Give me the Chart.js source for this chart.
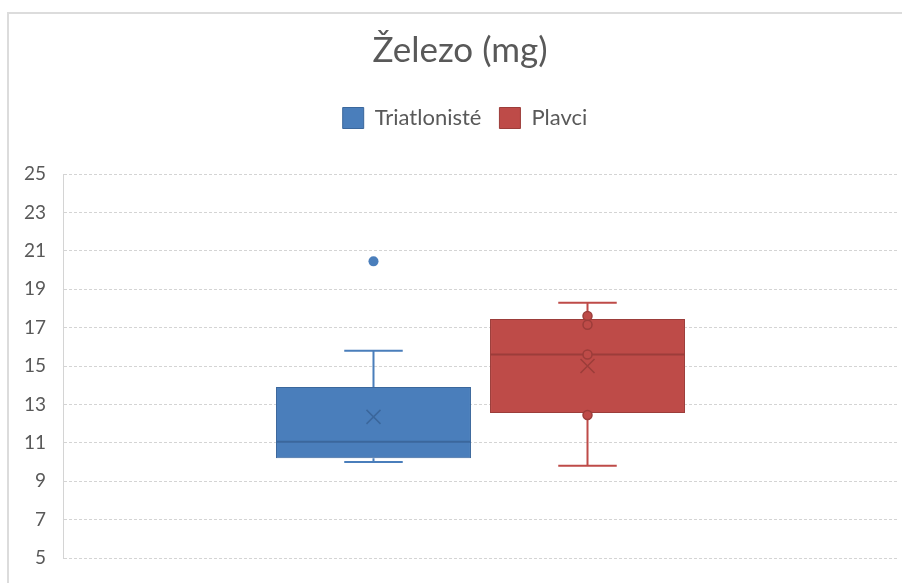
<!DOCTYPE html>
<html>
<head>
<meta charset="utf-8">
<script src="https://cdn.jsdelivr.net/npm/chart.js@4.4.1/dist/chart.umd.min.js"></script>
<style>
  html, body { margin: 0; padding: 0; background: #ffffff; }
  #wrap { position: relative; width: 902px; height: 583px; overflow: hidden; }
  #frame { position: absolute; left: 7px; top: 12px; width: 1000px; height: 1000px;
           border-left: 2px solid #dcdcdc; border-top: 2px solid #dcdcdc; }
  canvas { position: absolute; left: 0; top: 0; }
</style>
</head>
<body>
<div id="wrap">
  <div id="frame"></div>
  <canvas id="c" width="902" height="583"></canvas>
</div>
<script>
// Iron intake (mg): box-and-whisker summary per group
const seriesNames = ['Triatlonisté', 'Plavci'];
const minValues = [10.0, 9.8];
const q1Values = [10.2, 12.55];
const medianValues = [11.05, 15.6];
const q3Values = [13.9, 17.45];
const maxValues = [15.8, 18.3];
const meanValues = [12.35, 15.0];
const outlierValues = [[20.45], []];
const innerPointValues = [[], [17.6, 17.15, 15.6, 12.45]];
const yTicks = [5, 7, 9, 11, 13, 15, 17, 19, 21, 23, 25];

const fillColors = ['#4a7ebb', '#be4b48'];
const edgeColors = ['#3b679c', '#9c3d3a'];
const textColor = '#595959';
const fontFamily = 'Lato, "Open Sans", sans-serif';

// Whiskers, caps, median, mean marker and single points drawn on top of the boxes
const boxExtras = {
  id: 'boxExtras',
  afterDatasetsDraw(chart) {
    const ctx = chart.ctx;
    const y = chart.scales.y;
    chart.data.datasets.forEach((ds, i) => {
      const meta = chart.getDatasetMeta(i);
      if (meta.hidden || !meta.data[0]) return;
      const bar = meta.data[0];
      const cx = bar.x;
      const half = bar.width / 2;
      const capHalf = bar.width * 0.15;
      const yMin = y.getPixelForValue(minValues[i]);
      const yMax = y.getPixelForValue(maxValues[i]);
      const yQ1 = y.getPixelForValue(q1Values[i]);
      const yQ3 = y.getPixelForValue(q3Values[i]);
      const yMed = y.getPixelForValue(medianValues[i]);
      const yMean = y.getPixelForValue(meanValues[i]);

      ctx.save();
      // whiskers
      ctx.strokeStyle = fillColors[i];
      ctx.lineWidth = 2;
      ctx.beginPath();
      ctx.moveTo(cx, yQ3); ctx.lineTo(cx, yMax);
      ctx.moveTo(cx - capHalf, yMax); ctx.lineTo(cx + capHalf, yMax);
      ctx.moveTo(cx, yQ1); ctx.lineTo(cx, yMin);
      ctx.moveTo(cx - capHalf, yMin); ctx.lineTo(cx + capHalf, yMin);
      ctx.stroke();

      // median
      ctx.strokeStyle = edgeColors[i];
      ctx.lineWidth = 2;
      ctx.beginPath();
      ctx.moveTo(cx - half, yMed); ctx.lineTo(cx + half, yMed);
      ctx.stroke();

      // inner points
      innerPointValues[i].forEach(v => {
        const py = y.getPixelForValue(v);
        ctx.beginPath();
        ctx.arc(cx, py, 4.5, 0, Math.PI * 2);
        ctx.fillStyle = fillColors[i];
        ctx.fill();
        ctx.lineWidth = 1.5;
        ctx.strokeStyle = edgeColors[i];
        ctx.stroke();
      });

      // mean marker (x)
      const m = 7;
      ctx.strokeStyle = edgeColors[i];
      ctx.lineWidth = 1.5;
      ctx.beginPath();
      ctx.moveTo(cx - m, yMean - m); ctx.lineTo(cx + m, yMean + m);
      ctx.moveTo(cx + m, yMean - m); ctx.lineTo(cx - m, yMean + m);
      ctx.stroke();

      // outliers
      outlierValues[i].forEach(v => {
        const py = y.getPixelForValue(v);
        ctx.beginPath();
        ctx.arc(cx, py, 5, 0, Math.PI * 2);
        ctx.fillStyle = fillColors[i];
        ctx.fill();
      });
      ctx.restore();
    });
  }
};

// Extra space between the legend and the plot; title and legend sit slightly right of centre
const headerLayout = {
  id: 'headerLayout',
  beforeInit(chart) {
    const origFit = chart.legend.fit;
    chart.legend.fit = function () {
      origFit.bind(chart.legend)();
      this.height += 35;
    };
  },
  afterLayout(chart) {
    const shift = (box, dx) => { if (box) { box.left += dx; box.right += dx; } };
    shift(chart.legend, 7);
    shift(chart.titleBlock, 2);
  }
};

const datasets = seriesNames.map((name, i) => ({
  label: name,
  data: [[q1Values[i], q3Values[i]]],
  backgroundColor: fillColors[i],
  borderColor: edgeColors[i],
  borderWidth: 1,
  borderSkipped: false,
  categoryPercentage: 0.5126,
  barPercentage: 0.911
}));

new Chart(document.getElementById('c'), {
  type: 'bar',
  data: { labels: [''], datasets },
  options: {
    responsive: false,
    animation: false,
    layout: { padding: { left: 18, right: 4, top: 0, bottom: 25 } },
    plugins: {
      title: {
        display: true,
        text: 'Železo (mg)',
        color: textColor,
        font: { family: fontFamily, size: 35, weight: 'normal' },
        padding: { top: 30, bottom: 17 }
      },
      legend: {
        display: true,
        position: 'top',
        labels: {
          color: textColor,
          font: { family: fontFamily, size: 22 },
          boxWidth: 21,
          boxHeight: 21,
          padding: 18
        }
      },
      tooltip: { enabled: false }
    },
    scales: {
      x: { display: false },
      y: {
        min: 5,
        max: 25,
        afterBuildTicks: s => { s.ticks = yTicks.map(v => ({ value: v })); },
        afterFit: s => { s.width = 45; s.paddingTop = 0; s.paddingBottom = 0; },
        ticks: { color: textColor, font: { family: fontFamily, size: 19 }, padding: 17 },
        grid: { color: '#d4d4d4', drawTicks: false, lineWidth: 1 },
        border: { display: true, color: '#d4d4d4', dash: [3, 2] }
      }
    }
  },
  plugins: [boxExtras, headerLayout]
});
</script>
</body>
</html>
